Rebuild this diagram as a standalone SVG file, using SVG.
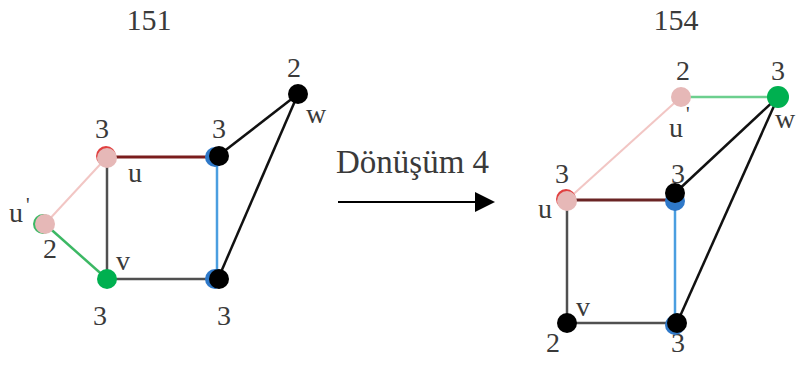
<svg xmlns="http://www.w3.org/2000/svg" width="799" height="365" viewBox="0 0 799 365">
<defs>
<style>
text{font-family:"Liberation Serif","Times New Roman",serif;fill:#3a3a3a}
.lbl{font-size:28px;text-anchor:middle}
.ttl{font-size:30px;text-anchor:middle}
.e{stroke-width:2.5;fill:none}
.blk{stroke:#111}
.gry{stroke:#505050}
.red{stroke:#7a1c1c;stroke-width:3}
.blu{stroke:#4a9ee0}
.pnk{stroke:#f2c6c4;stroke-width:2}
.grn{stroke:#3cb864}
.pinkn{fill:#e6b8b7}
.greenn{fill:#00b050}
.blackn{fill:#000}
.bluen{fill:#2e78c8}
.redn{fill:#e04040}
</style>
<marker id="ah" markerWidth="22" markerHeight="20" refX="2" refY="10" orient="auto" markerUnits="userSpaceOnUse">
<path d="M0,0 L20,10 L0,20 Z" fill="#000"/>
</marker>
</defs>
<rect width="799" height="365" fill="#fff"/>

<text class="ttl" x="149" y="30">151</text>
<text class="ttl" x="676" y="30">154</text>

<g id="edges">
<!-- left graph -->
<line class="e red" x1="107" y1="157" x2="218" y2="157"/>
<line class="e blu" x1="217" y1="157" x2="217" y2="279"/>
<line class="e blk" x1="218" y1="156" x2="298" y2="94"/>
<line class="e blk" x1="218" y1="279" x2="298" y2="94"/>
<line class="e gry" x1="107" y1="157" x2="107" y2="279"/>
<line class="e gry" x1="107" y1="279" x2="218" y2="279"/>
<line class="e pnk" x1="107" y1="157" x2="45" y2="224"/>
<line class="e grn" x1="45" y1="224" x2="107" y2="279"/>
<!-- right graph -->
<line class="e grn" style="stroke:#6ccf8e" x1="681" y1="97" x2="778" y2="97"/>
<line class="e pnk" x1="681" y1="97" x2="567" y2="200"/>
<line class="e red" style="stroke:#6a2424" x1="567" y1="200" x2="675" y2="200"/>
<line class="e blk" x1="675" y1="193" x2="778" y2="97"/>
<line class="e blu" x1="675" y1="200" x2="675" y2="323"/>
<line class="e blk" x1="677" y1="323" x2="778" y2="97"/>
<line class="e gry" x1="567" y1="200" x2="567" y2="323"/>
<line class="e gry" x1="567" y1="323" x2="677" y2="323"/>
<!-- transform arrow -->
<line x1="338" y1="202" x2="477" y2="202" stroke="#000" stroke-width="2" marker-end="url(#ah)"/>
</g>

<text x="336" y="173" style="font-size:33px">Dönüşüm 4</text>

<!-- left graph nodes -->
<g id="L_u">
<circle class="redn" cx="106" cy="156" r="10"/>
<circle class="pinkn" cx="107" cy="158" r="10"/>
<text class="lbl" x="102" y="138">3</text>
<text class="lbl" x="135" y="182">u</text>
</g>
<g id="L_tr">
<circle class="bluen" cx="215" cy="157" r="10"/>
<circle class="blackn" cx="219" cy="156" r="10"/>
<text class="lbl" x="219" y="138">3</text>
</g>
<g id="L_w">
<circle class="blackn" cx="298" cy="94" r="10"/>
<text class="lbl" x="294" y="77">2</text>
<text class="lbl" x="316" y="123">w</text>
</g>
<g id="L_u1">
<circle class="greenn" style="fill:#3cb864" cx="43" cy="224" r="10"/>
<circle class="pinkn" cx="45" cy="224" r="10"/>
<text class="lbl" x="16" y="222">u</text>
<text x="26" y="212" style="font-size:20px">'</text>
<text class="lbl" x="50" y="258">2</text>
</g>
<g id="L_v">
<circle class="greenn" cx="107" cy="279" r="10"/>
<text class="lbl" x="123" y="270">v</text>
<text class="lbl" x="100" y="325">3</text>
</g>
<g id="L_br">
<circle class="bluen" cx="215" cy="279" r="10"/>
<circle class="blackn" cx="219" cy="279" r="10"/>
<text class="lbl" x="224" y="325">3</text>
</g>

<!-- right graph nodes -->
<g id="R_u1">
<circle class="pinkn" cx="681" cy="97" r="10"/>
<text class="lbl" x="683" y="80">2</text>
<text class="lbl" x="676" y="137">u</text>
<text x="686" y="121" style="font-size:20px">'</text>
</g>
<g id="R_w">
<circle class="greenn" cx="778" cy="97" r="11"/>
<text class="lbl" x="778" y="80">3</text>
<text class="lbl" x="785" y="128">w</text>
</g>
<g id="R_u">
<circle class="redn" cx="566" cy="199" r="10"/>
<circle class="pinkn" cx="567" cy="201" r="10"/>
<text class="lbl" x="562" y="183">3</text>
<text class="lbl" x="545" y="218">u</text>
</g>
<g id="R_mid">
<text class="lbl" x="678" y="183">3</text>
<circle class="bluen" cx="675" cy="201" r="10"/>
<circle class="blackn" cx="675" cy="193" r="10"/>
</g>
<g id="R_v">
<circle class="blackn" cx="567" cy="323" r="10"/>
<text class="lbl" x="583" y="316">v</text>
<text class="lbl" x="553" y="352">2</text>
</g>
<g id="R_br">
<text class="lbl" x="678" y="352">3</text>
<circle class="bluen" cx="675" cy="325" r="10"/>
<circle class="blackn" cx="677" cy="323" r="10"/>
</g>
</svg>
